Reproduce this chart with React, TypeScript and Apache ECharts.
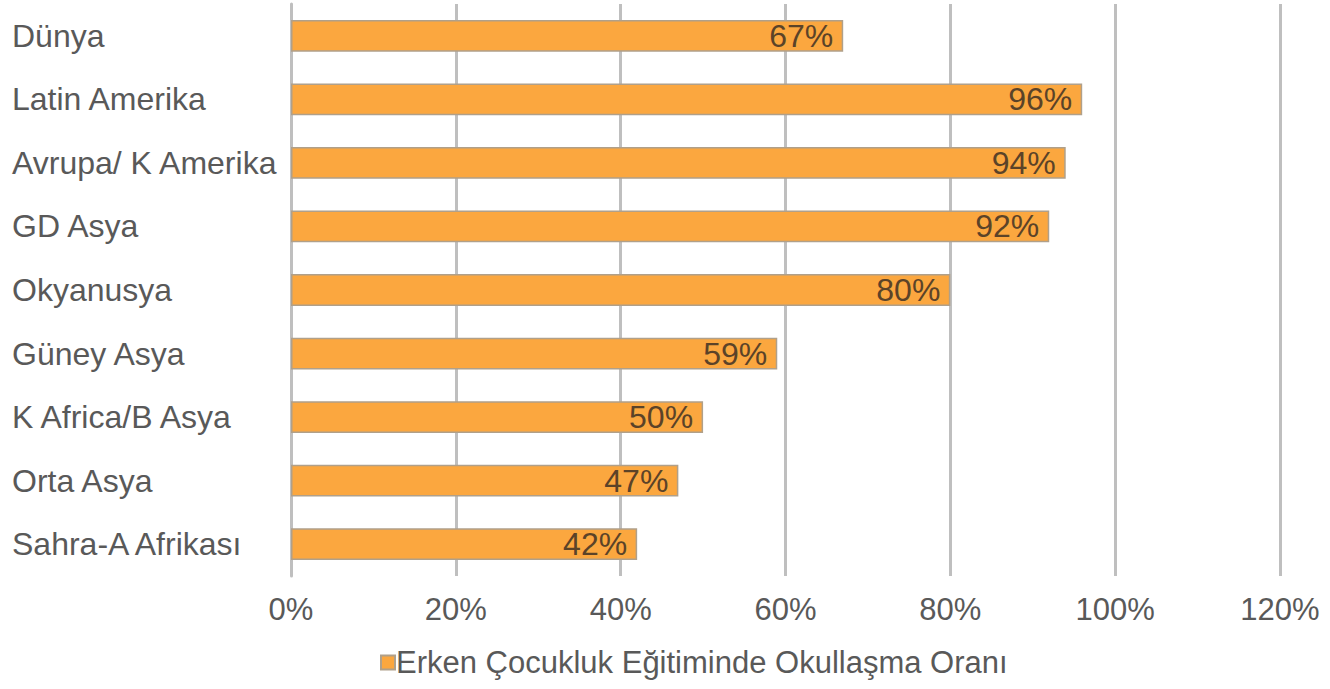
import React, { useEffect, useRef } from "react";
import * as echarts from "echarts";

const categories = [
  "Dünya",
  "Latin Amerika",
  "Avrupa/ K Amerika",
  "GD Asya",
  "Okyanusya",
  "Güney Asya",
  "K Africa/B Asya",
  "Orta Asya",
  "Sahra-A Afrikası",
];
const values = [67, 96, 94, 92, 80, 59, 50, 47, 42];
const seriesName = "Erken Çocukluk Eğitiminde Okullaşma Oranı";

export default function App() {
  const ref = useRef<HTMLDivElement>(null);
  useEffect(() => {
    if (!ref.current) return;
    const chart = echarts.init(ref.current, null, { renderer: "svg" });
    chart.setOption({
      animation: false,
      backgroundColor: "#ffffff",
      textStyle: { fontFamily: "'Liberation Sans', Arial, sans-serif" },
      grid: { left: 291, right: 50, top: 4, bottom: 113, containLabel: false },
      legend: {
        bottom: 6,
        left: 375,
        itemWidth: 14,
        itemHeight: 14,
        itemGap: 4,
        icon: "rect",
        textStyle: { fontSize: 31, color: "#595959", padding: [0, 0, 0, -4] },
        data: [seriesName],
      },
      xAxis: {
        type: "value",
        min: 0,
        max: 120,
        interval: 20,
        axisLine: { show: false },
        axisTick: { show: false },
        axisLabel: {
          formatter: "{value}%",
          fontSize: 31,
          color: "#595959",
          margin: 18,
        },
        splitLine: { show: true, lineStyle: { color: "#bfbfbf", width: 3 } },
      },
      yAxis: {
        type: "category",
        data: categories,
        inverse: true,
        axisLine: { show: true, lineStyle: { color: "#bfbfbf", width: 3 } },
        axisTick: { show: false },
        axisLabel: {
          align: "left",
          margin: 279,
          fontSize: 32,
          color: "#595959",
        },
      },
      series: [
        {
          name: seriesName,
          type: "bar",
          data: values,
          barCategoryGap: "50%",
          itemStyle: {
            color: "#fba73f",
            borderColor: "#b0a08a",
            borderWidth: 1.5,
          },
          label: {
            show: true,
            position: "insideRight",
            formatter: "{c}%",
            fontSize: 32,
            color: "#5b4328",
            distance: 10,
          },
        },
      ],
    });
    return () => chart.dispose();
  }, []);
  return (
    <div
      ref={ref}
      style={{ position: "fixed", left: 0, top: 0, width: 1330, height: 689 }}
    />
  );
}
